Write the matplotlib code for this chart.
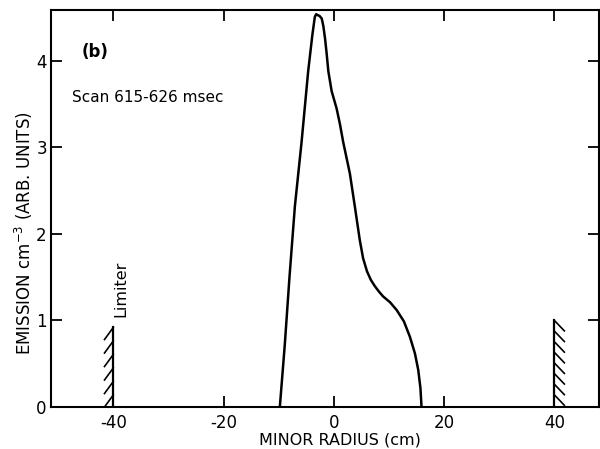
import matplotlib
matplotlib.use("Agg")
import matplotlib.pyplot as plt
import numpy as np

# Emission profile (minor radius in cm, arb. units)
radius = [-9.8, -8.9, -8.05, -7.07, -5.86, -4.66, -3.9, -3.45, -3.2, -2.95,
          -2.6, -2.2, -1.9, -1.6, -1.3, -1.0, -0.4, 0.5, 1.1, 1.7, 2.3, 2.9,
          3.8, 4.7, 5.3, 6.0, 6.7, 7.4, 8.1, 8.9, 10.2, 11.4, 12.7, 13.8,
          14.7, 15.3, 15.7, 15.9]
emission = [0.0, 0.72, 1.5, 2.32, 3.06, 3.88, 4.30, 4.51, 4.54, 4.53,
            4.52, 4.49, 4.40, 4.26, 4.08, 3.88, 3.65, 3.45, 3.27, 3.06, 2.88,
            2.70, 2.32, 1.93, 1.72, 1.57, 1.47, 1.40, 1.34, 1.28, 1.21, 1.12,
            0.99, 0.81, 0.62, 0.43, 0.22, 0.0]

limiter_x = [-40, 40]
limiter_top = [0.92, 1.0]
limiter_side = [-1, 1]  # which side the hatching sits on
limiter_hatches = [6, 8]

xticks = [-40, -20, 0, 20, 40]
yticks = [0, 1, 2, 3, 4]

plt.rcParams["font.family"] = "DejaVu Sans"
plt.rcParams["font.size"] = 12
plt.rcParams["axes.unicode_minus"] = False

fig = plt.figure(figsize=(6.0, 4.49), dpi=100)
ax = fig.add_axes([0.085, 0.0935, 0.913, 0.8845])

ax.plot(radius, emission, color="black", lw=1.8, solid_capstyle="round",
        solid_joinstyle="round")

# limiters: vertical bar with short hatch strokes
for lx, top, side, n in zip(limiter_x, limiter_top, limiter_side, limiter_hatches):
    ax.plot([lx, lx], [0, top], color="black", lw=1.6)
    ys = np.linspace(0.0, top - 0.14, n) + 0.14
    for y in ys:
        if side < 0:
            ax.plot([lx - 1.6, lx], [y - 0.14, y], color="black", lw=1.2)
        else:
            ax.plot([lx, lx + 1.8], [y, y - 0.12], color="black", lw=1.2)

ax.text(-38.6, 1.04, "Limiter", rotation=90, ha="center", va="bottom", fontsize=11.5)
ax.text(-43.3, 4.1, "(b)", ha="center", va="center", fontsize=12, fontweight="bold")
ax.text(-47.5, 3.58, "Scan 615-626 msec", ha="left", va="center", fontsize=11)

ax.set_xlim(-51.3, 48.05)
ax.set_ylim(0, 4.59)
ax.set_xticks(xticks)
ax.set_yticks(yticks)

ax.tick_params(direction="in", length=8, width=1.3, top=True, right=True,
               labelsize=12)
ax.tick_params(axis="x", pad=5)
ax.tick_params(axis="y", pad=3)
for s in ax.spines.values():
    s.set_linewidth(1.5)

ax.set_xlabel("MINOR RADIUS (cm)", fontsize=11.5)
ax.set_ylabel("EMISSION cm$^{-3}$ (ARB. UNITS)", fontsize=12)
ax.xaxis.set_label_coords(0.527, -0.065)
ax.yaxis.set_label_coords(-0.029, 0.438)

fig.savefig("out.png", dpi=100)
